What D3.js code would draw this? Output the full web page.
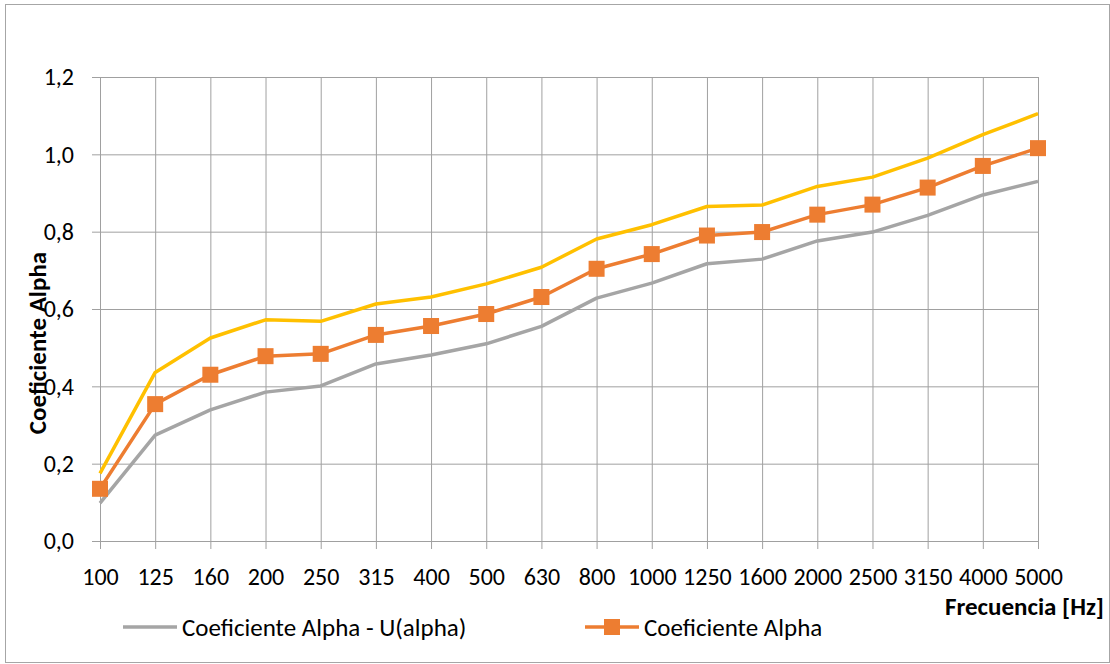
<!DOCTYPE html>
<html>
<head>
<meta charset="utf-8">
<script src="https://cdn.jsdelivr.net/npm/d3@7"></script>
<style>
  body { margin: 0; background: #fff; }
  svg text { font-family: Carlito, Calibri, 'Liberation Sans Narrow', 'Liberation Sans', sans-serif; fill: #000; }
</style>
</head>
<body>
<svg id="chart" width="1110" height="664"></svg>
<script>
// data
const freqs = ['100','125','160','200','250','315','400','500','630','800','1000','1250','1600','2000','2500','3150','4000','5000'];
const alpha = [0.135,0.354,0.430,0.478,0.484,0.533,0.556,0.587,0.631,0.704,0.742,0.790,0.799,0.844,0.870,0.914,0.970,1.016];
const alphaMinusU = [0.098,0.274,0.339,0.385,0.401,0.458,0.481,0.510,0.555,0.628,0.667,0.717,0.729,0.776,0.799,0.842,0.895,0.930];
const alphaPlusU = [0.175,0.436,0.525,0.572,0.568,0.613,0.631,0.665,0.708,0.781,0.818,0.865,0.869,0.917,0.941,0.990,1.051,1.105];
const yTicks = [0, 0.2, 0.4, 0.6, 0.8, 1.0, 1.2];

const svg = d3.select('#chart');
const margin = { left: 100, top: 77, right: 72, bottom: 123 };
const width = +svg.attr('width');
const height = +svg.attr('height');
const innerWidth = width - margin.left - margin.right;
const innerHeight = height - margin.top - margin.bottom;

// outer frame
svg.append('rect')
  .attr('x', 5.5).attr('y', 4.5)
  .attr('width', 1104).attr('height', 658)
  .attr('fill', '#fff')
  .attr('stroke', '#a6a6a6');

const g = svg.append('g')
  .attr('transform', `translate(${margin.left},${margin.top})`);

const xScale = d3.scalePoint().domain(freqs).range([0, innerWidth]);
const yScale = d3.scaleLinear().domain([0, 1.2]).range([innerHeight, 0]);

const fmt = d => d3.format('.1f')(d).replace('.', ',');

// horizontal grid + y ticks
const yAxisG = g.append('g')
  .call(d3.axisLeft(yScale).tickValues(yTicks).tickFormat(fmt)
    .tickSizeInner(-innerWidth).tickSizeOuter(0).tickPadding(26));
yAxisG.select('.domain').remove();
yAxisG.selectAll('.tick line').attr('x1', -8).attr('stroke', '#a0a0a0');
yAxisG.selectAll('.tick text').attr('font-size', 24);

// vertical grid + x ticks
const xAxisG = g.append('g')
  .attr('transform', `translate(0,${innerHeight})`)
  .call(d3.axisBottom(xScale).tickSizeInner(-innerHeight).tickSizeOuter(0).tickPadding(27));
xAxisG.select('.domain').remove();
xAxisG.selectAll('.tick line').attr('y1', 8).attr('stroke', '#a0a0a0');
xAxisG.selectAll('.tick text').attr('font-size', 24);

// series
const line = d3.line()
  .x((d, i) => xScale(freqs[i]))
  .y(d => yScale(d));

const series = [
  { key: 'minus', values: alphaMinusU, colour: '#a5a5a5' },
  { key: 'alpha', values: alpha, colour: '#ed7d31' },
  { key: 'plus', values: alphaPlusU, colour: '#ffc000' }
];

g.selectAll('.series').data(series).join('path')
  .attr('class', 'series')
  .attr('d', d => line(d.values))
  .attr('fill', 'none')
  .attr('stroke', d => d.colour)
  .attr('stroke-width', 3.5)
  .attr('stroke-linejoin', 'round');

const ms = 16;
g.selectAll('.marker').data(alpha).join('rect')
  .attr('class', 'marker')
  .attr('x', (d, i) => xScale(freqs[i]) - ms / 2)
  .attr('y', d => yScale(d) - ms / 2)
  .attr('width', ms).attr('height', ms)
  .attr('fill', '#ed7d31');

// axis titles
svg.append('text')
  .attr('transform', 'translate(46,343) rotate(-90)')
  .attr('text-anchor', 'middle')
  .attr('font-size', 25)
  .attr('font-weight', 'bold')
  .text('Coeficiente Alpha');

svg.append('text')
  .attr('x', 1104).attr('y', 615)
  .attr('text-anchor', 'end')
  .attr('font-size', 25)
  .attr('font-weight', 'bold')
  .text('Frecuencia [Hz]');

// legend
const legend = [
  { label: 'Coeficiente Alpha - U(alpha)', colour: '#a5a5a5', x: 123, marker: false },
  { label: 'Coeficiente Alpha', colour: '#ed7d31', x: 585, marker: true }
];
const lg = svg.append('g').attr('transform', 'translate(0,627)');
const item = lg.selectAll('.legend-item').data(legend).join('g')
  .attr('class', 'legend-item')
  .attr('transform', d => `translate(${d.x},0)`);
item.append('line')
  .attr('x1', 0).attr('x2', 54)
  .attr('stroke', d => d.colour)
  .attr('stroke-width', 3.5);
item.filter(d => d.marker).append('rect')
  .attr('x', 27 - ms / 2).attr('y', -ms / 2)
  .attr('width', ms).attr('height', ms)
  .attr('fill', d => d.colour);
item.append('text')
  .attr('x', 59).attr('dy', '0.35em')
  .attr('font-size', 25)
  .text(d => d.label);
</script>
</body>
</html>
